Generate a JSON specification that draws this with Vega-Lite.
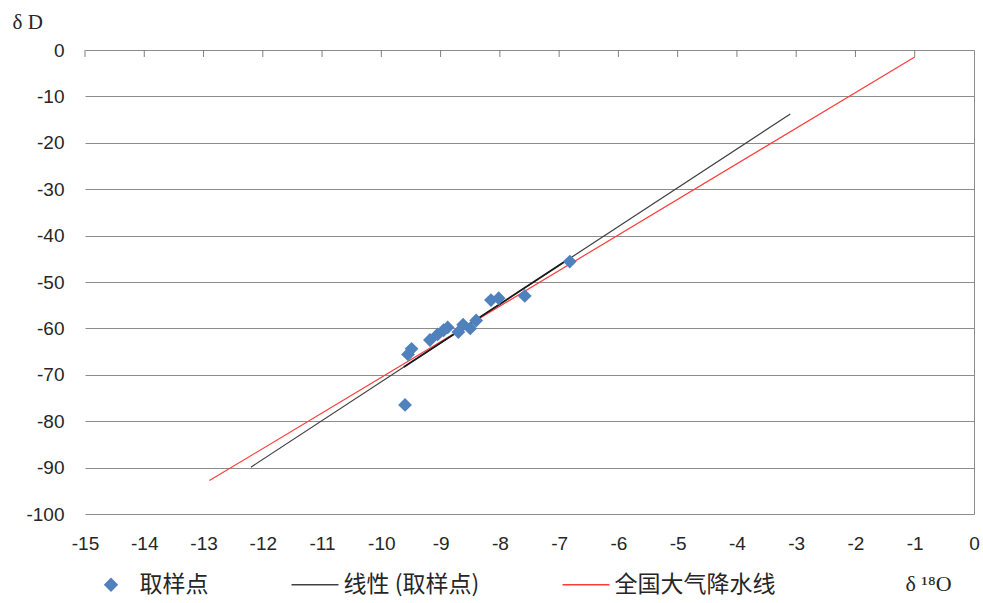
{
  "$schema": "https://vega.github.io/schema/vega-lite/v6.json",
  "width": 889,
  "height": 464,
  "autosize": {"type": "none"},
  "padding": {"left": 85, "top": 50, "right": 9, "bottom": 89},
  "background": "white",
  "config": {"view": {"stroke": null}, "font": "Liberation Sans"},
  "datasets": {
    "pts": [
      {"series": "取样点", "o18": -9.60, "d": -76.5},
      {"series": "取样点", "o18": -9.55, "d": -65.6},
      {"series": "取样点", "o18": -9.49, "d": -64.4},
      {"series": "取样点", "o18": -9.18, "d": -62.5},
      {"series": "取样点", "o18": -9.05, "d": -61.3},
      {"series": "取样点", "o18": -8.95, "d": -60.4},
      {"series": "取样点", "o18": -8.88, "d": -59.8},
      {"series": "取样点", "o18": -8.70, "d": -60.8},
      {"series": "取样点", "o18": -8.62, "d": -59.2},
      {"series": "取样点", "o18": -8.50, "d": -60.0},
      {"series": "取样点", "o18": -8.40, "d": -58.3},
      {"series": "取样点", "o18": -8.15, "d": -53.9},
      {"series": "取样点", "o18": -8.02, "d": -53.5},
      {"series": "取样点", "o18": -7.58, "d": -53.0},
      {"series": "取样点", "o18": -6.82, "d": -45.6}
    ],
    "lines": [
      {"series": "线性 (取样点)", "o18": -12.20, "d": -89.9},
      {"series": "线性 (取样点)", "o18": -3.10, "d": -13.8},
      {"series": "全国大气降水线", "o18": -12.90, "d": -92.8},
      {"series": "全国大气降水线", "o18": -1.00, "d": -1.5}
    ],
    "fit": [
      {"series": "线性 (取样点)", "o18": -9.62, "d": -68.3},
      {"series": "线性 (取样点)", "o18": -6.82, "d": -44.9}
    ],
    "ticks": [
      {"o18": -15}, {"o18": -14}, {"o18": -13}, {"o18": -12}, {"o18": -11},
      {"o18": -10}, {"o18": -9}, {"o18": -8}, {"o18": -7}, {"o18": -6},
      {"o18": -5}, {"o18": -4}, {"o18": -3}, {"o18": -2}, {"o18": -1}
    ]
  },
  "layer": [
    {
      "data": {"name": "lines"},
      "mark": {"type": "line", "strokeWidth": 1.2},
      "encoding": {
        "x": {
          "field": "o18", "type": "quantitative",
          "scale": {"domain": [-15, 0], "nice": false, "zero": false},
          "axis": {
            "orient": "bottom", "values": [-15,-14,-13,-12,-11,-10,-9,-8,-7,-6,-5,-4,-3,-2,-1,0],
            "labelExpr": "replace(datum.label, '−', '-')",
            "domain": false, "ticks": false, "tickSize": 0, "grid": false,
            "labelPadding": 20, "labelFontSize": 19, "labelColor": "#262626", "labelFont": "Liberation Sans",
            "labelFlush": false,
            "title": "δ ¹⁸O", "titleFont": "Liberation Serif", "titleFontSize": 22, "titleFontWeight": "normal",
            "titleColor": "#262626", "titleAnchor": "start", "titleAlign": "left", "titleBaseline": "top",
            "titleX": 820, "titleY": 59
          }
        },
        "y": {
          "field": "d", "type": "quantitative",
          "scale": {"domain": [-100, 0], "nice": false, "zero": false},
          "axis": {
            "orient": "left", "values": [-100,-90,-80,-70,-60,-50,-40,-30,-20,-10,0],
            "labelExpr": "replace(datum.label, '−', '-')",
            "domain": false, "ticks": false, "tickSize": 0,
            "grid": true, "gridColor": "#8c8c8c", "gridWidth": 1, "gridOpacity": 1,
            "labelPadding": 21, "labelFontSize": 19, "labelColor": "#262626", "labelFont": "Liberation Sans",
            "labelFlush": false,
            "title": "δ D", "titleFont": "Liberation Serif", "titleFontSize": 21, "titleFontWeight": "normal",
            "titleColor": "#262626", "titleAngle": 0, "titleAlign": "left", "titleBaseline": "top",
            "titleX": -73, "titleY": -39
          }
        },
        "detail": {"field": "series"},
        "color": {
          "field": "series", "type": "nominal",
          "scale": {"domain": ["取样点", "线性 (取样点)", "全国大气降水线"], "range": ["#4F81BD", "#404040", "#FF3B3B"]},
          "legend": {
            "orient": "none", "legendX": 1.5, "legendY": 510, "direction": "horizontal",
            "title": null, "padding": 0, "columnPadding": 80,
            "symbolSize": 2209, "labelOffset": 4,
            "labelFont": "Noto Sans CJK SC", "labelFontSize": 23, "labelColor": "#262626",
            "labelLimit": 300,
            "encode": {
              "symbols": {
                "update": {
                  "shape": {"signal": "datum.value === '取样点' ? 'diamond' : 'stroke'"},
                  "size": {"signal": "datum.value === '取样点' ? 150 : 2209"},
                  "fill": {"signal": "datum.value === '取样点' ? '#4F81BD' : 'transparent'"},
                  "stroke": {"signal": "datum.value === '取样点' ? 'transparent' : (datum.value === '线性 (取样点)' ? '#404040' : '#FF3B3B')"},
                  "strokeWidth": {"value": 1.5},
                  "opacity": {"value": 1}
                }
              }
            }
          }
        }
      }
    },
    {
      "data": {"name": "fit"},
      "mark": {"type": "line", "strokeWidth": 1.8, "color": "#1a1a1a"},
      "encoding": {
        "x": {"field": "o18", "type": "quantitative", "axis": null},
        "y": {
          "field": "d", "type": "quantitative",
          "axis": {
            "orient": "right", "domain": true, "domainColor": "#8c8c8c", "domainWidth": 1,
            "ticks": false, "labels": false, "grid": false, "title": null
          }
        }
      }
    },
    {
      "data": {"name": "ticks"},
      "mark": {"type": "rule", "color": "#7f7f7f", "strokeWidth": 1},
      "encoding": {
        "x": {"field": "o18", "type": "quantitative", "axis": null},
        "y": {"datum": 0, "type": "quantitative", "axis": null},
        "y2": {"datum": -1.5}
      }
    },
    {
      "data": {"name": "pts"},
      "mark": {"type": "point", "shape": "diamond", "filled": true, "size": 190, "opacity": 1},
      "encoding": {
        "x": {"field": "o18", "type": "quantitative", "axis": null},
        "y": {"field": "d", "type": "quantitative", "axis": null},
        "color": {"field": "series", "type": "nominal"}
      }
    }
  ],
  "resolve": {"axis": {"x": "independent", "y": "independent"}}
}
